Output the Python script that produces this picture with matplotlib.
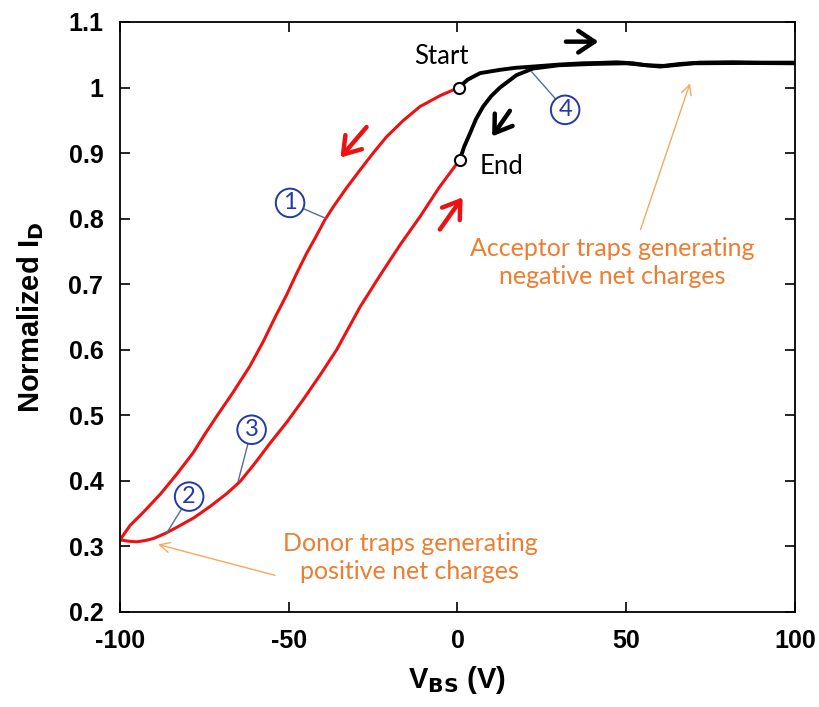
import matplotlib
matplotlib.use('Agg')
import matplotlib.pyplot as plt

plt.rcParams['axes.unicode_minus'] = False

# sweep 1: 0 V -> -100 V (upper red)
v_down = [0.4, -5, -11.1, -16, -21, -25, -28.9, -33, -36.8, -39.3, -42, -44.7, -47.7,
          -50.6, -54, -57.5, -61.5, -66.5, -71.4, -75, -78.3, -83.2, -88, -93.1, -97, -100]
i_down = [1.0, 0.988, 0.971, 0.95, 0.925, 0.90, 0.874, 0.846, 0.818, 0.798, 0.772, 0.747,
          0.716, 0.684, 0.65, 0.613, 0.575, 0.535, 0.498, 0.47, 0.443, 0.41, 0.38, 0.352,
          0.332, 0.31]
# sweep 2: -100 V -> 0 V (lower red)
v_up = [-100, -97.5, -95.1, -92.5, -90.1, -86.5, -83.2, -78, -73.3, -68.5, -64.4, -60,
        -55.6, -50.5, -45.7, -40.5, -35.8, -28.9, -23, -17, -11.1, -5.5, 0.7]
i_up = [0.31, 0.308, 0.307, 0.309, 0.312, 0.32, 0.329, 0.344, 0.361, 0.38, 0.399, 0.427,
        0.457, 0.49, 0.524, 0.563, 0.60, 0.665, 0.713, 0.76, 0.803, 0.847, 0.89]
# positive sweep (black)
v_pos = [0.4, 3, 6.7, 12.6, 17, 22.4, 30, 37.2, 42, 47.2, 52, 56, 61, 66, 71.9, 81.6, 90, 100]
i_pos = [1.0, 1.012, 1.022, 1.027, 1.03, 1.032, 1.035, 1.037, 1.0375, 1.0385, 1.037, 1.034,
         1.033, 1.036, 1.038, 1.0386, 1.038, 1.038]
v_ret = [100, 85, 70, 60, 50, 40, 30, 22.4, 17.5, 12.6, 10, 7.6, 5.5, 3.7, 2, 0.7]
i_ret = [1.037, 1.0375, 1.037, 1.032, 1.037, 1.036, 1.034, 1.029, 1.019, 1.0, 0.987, 0.971,
         0.952, 0.93, 0.91, 0.89]

orange = '#ED7D31'
blue = '#2438A8'

fig = plt.figure(figsize=(8.2, 7.07), dpi=100)
ax = fig.add_axes([0.1463, 0.1344, 0.8232, 0.8345])

ax.plot(v_down, i_down, color='#EE1111', lw=2.2)
ax.plot(v_up, i_up, color='#EE1111', lw=2.2)
ax.plot(v_pos, i_pos, color='black', lw=2.8)
ax.plot(v_ret, i_ret, color='black', lw=2.8)
ax.plot([0.4, 0.7], [1.0, 0.89], 'o', ms=8, mfc='white', mec='black', mew=1.5, zorder=5)

ax.set_xlim(-100, 100)
ax.set_ylim(0.2, 1.1)
ax.set_xticks([-100, -50, 0, 50, 100])
ax.set_yticks([0.2, 0.3, 0.4, 0.5, 0.6, 0.7, 0.8, 0.9, 1.0, 1.1])
ax.set_yticklabels(['0.2', '0.3', '0.4', '0.5', '0.6', '0.7', '0.8', '0.9', '1', '1.1'])
ax.tick_params(direction='in', top=True, right=True, length=7, width=1.2)
ax.tick_params(axis='x', pad=12)
ax.tick_params(axis='y', pad=12)
for lab in ax.get_xticklabels() + ax.get_yticklabels():
    lab.set_fontfamily('Liberation Sans')
    lab.set_fontweight('bold')
    lab.set_fontsize(18)
for s in ax.spines.values():
    s.set_linewidth(1.3)

ax.set_xlabel(r'V$_\mathbf{BS}$ (V)', fontsize=21, fontweight='bold', family='Liberation Sans', labelpad=8)
ax.set_ylabel(r'Normalized I$_\mathbf{D}$', fontsize=21, fontweight='bold', family='Liberation Sans', labelpad=16)

# Start / End labels
ax.text(-4.7, 1.047, 'Start', fontsize=18.5, family='Lato', ha='center', va='center')
ax.text(13.1, 0.879, 'End', fontsize=18.5, family='Lato', ha='center', va='center')

# direction arrows
ark = dict(arrowstyle='->,head_length=0.45,head_width=0.3', lw=3.2, mutation_scale=26)
ax.annotate('', xy=(-35.2, 0.89), xytext=(-26.4, 0.943), arrowprops=dict(ark, color='#EE1111'))
ax.annotate('', xy=(2.0, 0.836), xytext=(-5.7, 0.78), arrowprops=dict(ark, color='#EE1111'))
ax.annotate('', xy=(42.6, 1.07), xytext=(31.3, 1.07), arrowprops=dict(ark, color='black'))
ax.annotate('', xy=(9.8, 0.922), xytext=(16.0, 0.968), arrowprops=dict(ark, color='black'))

# circled numbers
circ = dict(boxstyle='circle,pad=0.16', fc='white', ec=blue, lw=1.4)
lbls = ['1', '2', '3', '4']
lab_xy = [(-49.6, 0.824), (-79.5, 0.376), (-61, 0.478), (31.9, 0.966)]
pt_xy = [(-38.8, 0.80), (-86.2, 0.32), (-65, 0.399), (22, 1.024)]
for t, (tx, ty), (px, py) in zip(lbls, lab_xy, pt_xy):
    ax.annotate(t, xy=(px, py), xytext=(tx, ty), fontsize=17, color=blue,
                family='Lato', ha='center', va='center', bbox=circ,
                arrowprops=dict(arrowstyle='-', color='#5A6A9A', lw=1, shrinkA=0, shrinkB=0))

# trap annotations
ax.annotate('Acceptor traps generating\nnegative net charges', xy=(68.9, 1.0066), xytext=(45.8, 0.733),
            fontsize=18, color=orange, family='Lato', ha='center', va='center',
            linespacing=1.25,
            arrowprops=dict(arrowstyle='->', color='#F5A860', lw=1, shrinkA=0, shrinkB=0,
                            relpos=(0.6, 1.15)))
ax.annotate('Donor traps generating\npositive net charges', xy=(-88.7, 0.303), xytext=(-14.1, 0.283),
            fontsize=18, color=orange, family='Lato', ha='center', va='center',
            linespacing=1.25,
            arrowprops=dict(arrowstyle='->', color='#F5A860', lw=1, shrinkA=0, shrinkB=0,
                            relpos=(-0.03, 0.15)))

fig.savefig('out.png', dpi=100, facecolor='white')
